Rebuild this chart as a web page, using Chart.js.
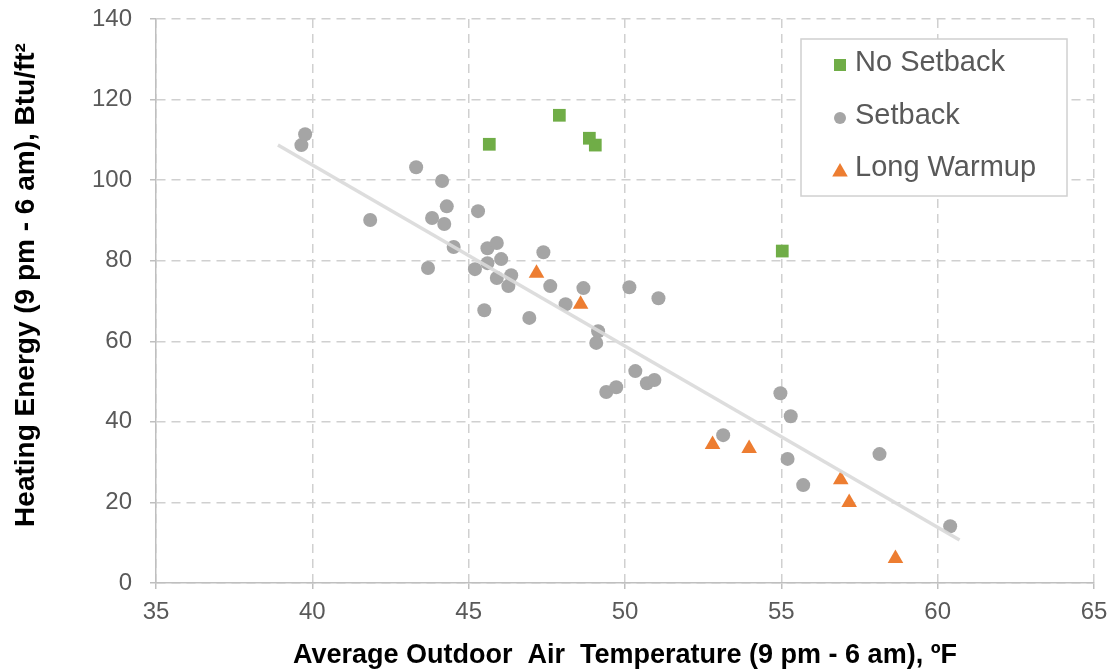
<!DOCTYPE html>
<html>
<head>
<meta charset="utf-8">
<script src="https://cdn.jsdelivr.net/npm/chart.js@4"></script>
<style>
html,body{margin:0;padding:0;background:#fff;}
#wrap{width:1113px;height:672px;position:relative;}
</style>
</head>
<body>
<div id="wrap"><canvas id="c"></canvas></div>
<script>
// ---- data ----
const noSetbackX = [45.66, 47.9, 48.86, 49.05, 55.03];
const noSetbackY = [108.9, 116.1, 110.4, 108.7, 82.4];

const setbackX = [39.65, 39.77, 41.85, 43.32, 43.7, 43.83, 44.15, 44.3, 44.22, 44.52,
  45.3, 45.2, 45.5, 45.6, 45.6, 45.9, 45.9, 46.04, 46.36, 46.27,
  46.94, 47.39, 47.61, 48.1, 48.67, 50.14, 51.07, 49.14, 49.08, 50.33,
  50.7, 50.94, 49.4, 49.72, 53.14, 54.97, 55.3, 55.2, 55.7, 58.14, 60.4];
const setbackY = [108.7, 111.4, 90.1, 103.2, 78.2, 90.6, 99.8, 93.5, 89.1, 83.4,
  92.3, 77.9, 67.7, 83.1, 79.4, 84.4, 75.7, 80.4, 76.4, 73.7,
  65.8, 82.1, 73.7, 69.2, 73.2, 73.4, 70.7, 62.5, 59.6, 52.6,
  49.6, 50.4, 47.4, 48.6, 36.7, 47.1, 41.4, 30.8, 24.3, 32.0, 14.1];

const warmupX = [47.17, 48.58, 52.8, 53.97, 56.9, 57.17, 58.65];
const warmupY = [76.9, 69.2, 34.4, 33.4, 25.6, 20.0, 6.1];

const trendX = [38.9, 60.7];
const trendY = [108.7, 10.7];

const seriesNames = ['No Setback', 'Setback', 'Long Warmup'];
const xTicks = [35, 40, 45, 50, 55, 60, 65];
const yTicks = [0, 20, 40, 60, 80, 100, 120, 140];

const xTitle = 'Average Outdoor  Air  Temperature (9 pm - 6 am), \u00BAF';
const yTitle = 'Heating Energy (9 pm - 6 am), Btu/ft\u00B2';

const toPts = (xs, ys) => xs.map((x, i) => ({x: x, y: ys[i]}));

const GREEN = '#70AD47', GREY = '#A5A5A5', ORANGE = '#ED7D31';

const legendPlugin = {
  id: 'insideLegend',
  afterDraw(chart) {
    const ctx = chart.ctx, ca = chart.chartArea;
    // y-axis title
    ctx.save();
    ctx.translate(26, (ca.top + ca.bottom) / 2 - 16);
    ctx.rotate(-Math.PI / 2);
    ctx.font = 'bold 28px "Liberation Sans", Arial, sans-serif';
    ctx.fillStyle = '#000';
    ctx.textAlign = 'center';
    ctx.textBaseline = 'middle';
    ctx.fillText(yTitle, 0, 0);
    ctx.restore();

    // legend box inside plot
    const bx = ca.right - 293, by = ca.top + 20, bw = 266, bh = 157;
    ctx.save();
    ctx.fillStyle = '#fff';
    ctx.fillRect(bx, by, bw, bh);
    ctx.strokeStyle = '#d0d0d0';
    ctx.lineWidth = 1.5;
    ctx.strokeRect(bx, by, bw, bh);
    const styles = [
      {style: 'rect', r: 8.5, dy: 26},
      {style: 'circle', r: 6, dy: 79},
      {style: 'triangle', r: 9, dy: 131}
    ];
    ctx.font = '29px "Liberation Sans", Arial, sans-serif';
    ctx.textBaseline = 'middle';
    styles.forEach((s, i) => {
      const ds = chart.data.datasets.find(d => d.label === seriesNames[i]);
      const cy = by + s.dy;
      ctx.fillStyle = ds.backgroundColor;
      Chart.helpers.drawPoint(ctx, {pointStyle: s.style, radius: s.r, borderWidth: 0, rotation: 0}, bx + 39, cy + (s.style === 'triangle' ? 2 : 0));
      ctx.fillStyle = '#595959';
      ctx.fillText(seriesNames[i], bx + 54, cy - 2);
    });
    ctx.restore();
  }
};

const tickFont = {family: '"Liberation Sans", Arial, sans-serif', size: 24};

new Chart(document.getElementById('c'), {
  type: 'scatter',
  data: {
    datasets: [
      {label: 'trend', data: toPts(trendX, trendY), showLine: true, borderColor: 'rgba(217,217,217,0.9)',
       borderWidth: 3.5, pointRadius: 0, fill: false, order: 0},
      {label: seriesNames[0], data: toPts(noSetbackX, noSetbackY), pointStyle: 'rect', pointRadius: 9,
       backgroundColor: GREEN, borderColor: GREEN, borderWidth: 0, order: 1},
      {label: seriesNames[1], data: toPts(setbackX, setbackY), pointStyle: 'circle', pointRadius: 7,
       backgroundColor: GREY, borderColor: GREY, borderWidth: 0, order: 2},
      {label: seriesNames[2], data: toPts(warmupX, warmupY), pointStyle: 'triangle', pointRadius: 9,
       backgroundColor: ORANGE, borderColor: ORANGE, borderWidth: 0, order: 1}
    ]
  },
  options: {
    responsive: true,
    maintainAspectRatio: false,
    animation: false,
    layout: {padding: {top: 19, right: 19, left: 0, bottom: 0}},
    plugins: {legend: {display: false}, tooltip: {enabled: false}},
    scales: {
      x: {
        type: 'linear', min: 35, max: 65,
        afterBuildTicks: s => { s.ticks = xTicks.map(v => ({value: v})); },
        afterFit: s => { s.height = 89; s.paddingLeft = 0; s.paddingRight = 0; },
        ticks: {font: tickFont, color: '#595959', padding: 9},
        grid: {color: '#d0d0d0', lineWidth: 1.5, tickLength: 6, tickColor: '#bfbfbf', tickBorderDash: [], drawTicks: true},
        border: {display: true, color: '#bfbfbf', width: 1.5, dash: [9, 6]},
        title: {display: true, text: xTitle, color: '#000',
          font: {family: '"Liberation Sans", Arial, sans-serif', size: 27, weight: 'bold'},
          padding: {top: 2, bottom: 0}}
      },
      y: {
        type: 'linear', min: 0, max: 140,
        afterBuildTicks: s => { s.ticks = yTicks.map(v => ({value: v})); },
        afterFit: s => { s.width = 156; s.paddingTop = 0; s.paddingBottom = 0; },
        ticks: {font: tickFont, color: '#595959', padding: 18},
        grid: {color: '#d0d0d0', lineWidth: 1.5, tickLength: 6, tickColor: '#bfbfbf', tickBorderDash: []},
        border: {display: true, color: '#bfbfbf', width: 1.5, dash: [9, 6]},
        title: {display: false}
      }
    }
  },
  plugins: [legendPlugin]
});
</script>
</body>
</html>
